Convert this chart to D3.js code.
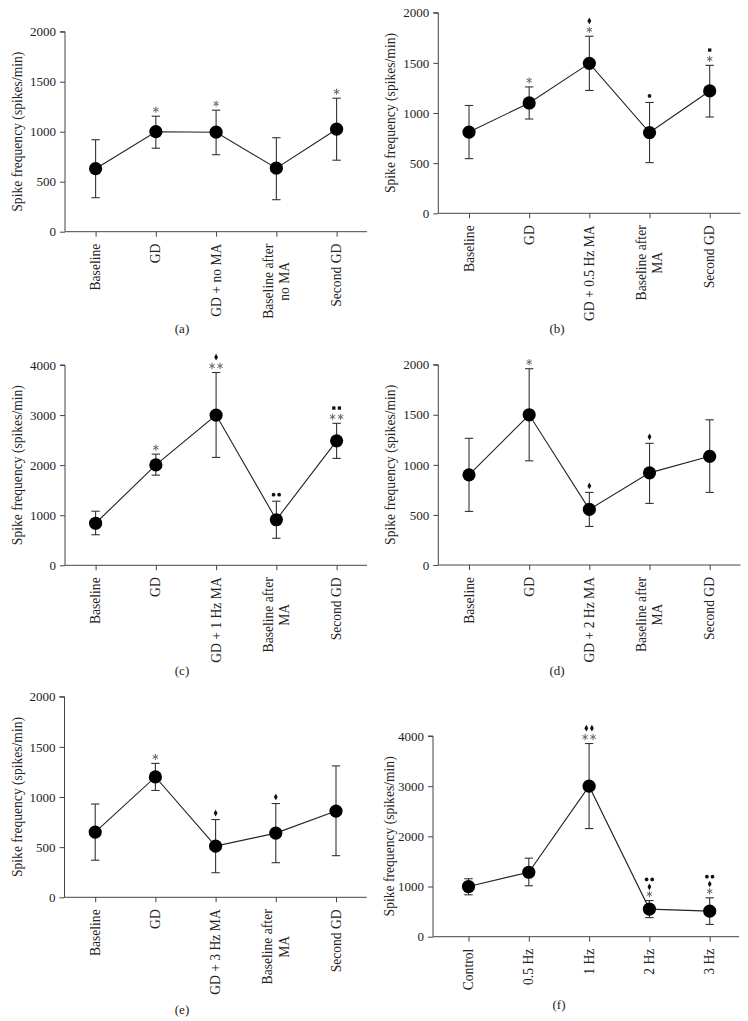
<!DOCTYPE html>
<html>
<head>
<meta charset="utf-8">
<script src="https://cdn.jsdelivr.net/npm/d3@7/dist/d3.min.js"></script>
<style>
  html, body { margin: 0; padding: 0; background: #fff; }
  svg { display: block; }
  text { font-family: "Liberation Serif", "Times New Roman", serif; fill: #222; }
</style>
</head>
<body>
<svg id="chart" width="748" height="1021"></svg>
<script>
// ---------------- DATA ----------------
const yTicks2000 = [0, 500, 1000, 1500, 2000];
const yTicks4000 = [0, 1000, 2000, 3000, 4000];

const categoriesA = ["Baseline", "GD", "GD + no MA", "Baseline after\nno MA", "Second GD"];
const meansA = [630, 1000, 995, 635, 1025];
const upperA = [920, 1155, 1215, 940, 1335];
const lowerA = [340, 835, 770, 320, 715];
const marksA = [[], ["*"], ["*"], [], ["*"]];

const categoriesB = ["Baseline", "GD", "GD + 0.5 Hz MA", "Baseline after\nMA", "Second GD"];
const meansB = [810, 1100, 1495, 805, 1220];
const upperB = [1075, 1260, 1765, 1105, 1475];
const lowerB = [545, 940, 1225, 505, 960];
const marksB = [[], ["*"], ["*", "d"], ["c"], ["*", "s"]];

const categoriesC = ["Baseline", "GD", "GD + 1 Hz MA", "Baseline after\nMA", "Second GD"];
const meansC = [840, 2005, 3000, 910, 2485];
const upperC = [1080, 2220, 3850, 1280, 2835];
const lowerC = [610, 1800, 2155, 540, 2135];
const marksC = [[], ["*"], ["**", "d"], ["cc"], ["**", "ss"]];

const categoriesD = ["Baseline", "GD", "GD + 2 Hz MA", "Baseline after\nMA", "Second GD"];
const meansD = [900, 1500, 555, 920, 1085];
const upperD = [1265, 1960, 725, 1215, 1450];
const lowerD = [535, 1040, 385, 615, 725];
const marksD = [[], ["*"], ["d"], ["d"], []];

const categoriesE = ["Baseline", "GD", "GD + 3 Hz MA", "Baseline after\nMA", "Second GD"];
const meansE = [650, 1200, 510, 640, 860];
const upperE = [930, 1335, 775, 935, 1310];
const lowerE = [370, 1065, 245, 345, 415];
const marksE = [[], ["*"], ["d"], ["d"], []];

const categoriesF = ["Control", "0.5 Hz", "1 Hz", "2 Hz", "3 Hz"];
const meansF = [1000, 1285, 3000, 550, 510];
const upperF = [1155, 1565, 3850, 720, 775];
const lowerF = [835, 1015, 2155, 380, 245];
const marksF = [[], [], ["**", "dd"], ["*", "d", "cc"], ["*", "d", "cc"]];

const yLabel = "Spike frequency (spikes/min)";
const captions = ["(a)", "(b)", "(c)", "(d)", "(e)", "(f)"];

// ---------------- LAYOUT ----------------
const panels = [
  {cats: categoriesA, m: meansA, up: upperA, lo: lowerA, mk: marksA, ticks: yTicks2000, max: 2000,
   ax: 65, xEnd: 367, px0: 95.6, px1: 336.6, top: 31.7, bot: 231.7, labX: 17, capX: 182, capY: 330},
  {cats: categoriesB, m: meansB, up: upperB, lo: lowerB, mk: marksB, ticks: yTicks2000, max: 2000,
   ax: 438.3, xEnd: 740.5, px0: 469, px1: 709.7, top: 12.7, bot: 213.3, labX: 390.5, capX: 557, capY: 330},
  {cats: categoriesC, m: meansC, up: upperC, lo: lowerC, mk: marksC, ticks: yTicks4000, max: 4000,
   ax: 65, xEnd: 367, px0: 95.6, px1: 336.6, top: 365, bot: 565.3, labX: 17, capX: 182, capY: 672},
  {cats: categoriesD, m: meansD, up: upperD, lo: lowerD, mk: marksD, ticks: yTicks2000, max: 2000,
   ax: 438.3, xEnd: 740.5, px0: 469, px1: 709.7, top: 364.7, bot: 565, labX: 390.5, capX: 557, capY: 672},
  {cats: categoriesE, m: meansE, up: upperE, lo: lowerE, mk: marksE, ticks: yTicks2000, max: 2000,
   ax: 64.5, xEnd: 366.7, px0: 95.2, px1: 336, top: 696.7, bot: 897.3, labX: 17, capX: 182, capY: 1011.5},
  {cats: categoriesF, m: meansF, up: upperF, lo: lowerF, mk: marksF, ticks: yTicks4000, max: 4000,
   ax: 433, xEnd: 739, px0: 468.5, px1: 709.7, top: 736, bot: 936.7, labX: 389.5, capX: 559, capY: 1006.5}
];

const svg = d3.select("#chart");

const symbolFor = {
  d: d3.symbol().type(d3.symbolDiamond).size(13),
  c: d3.symbol().type(d3.symbolCircle).size(11),
  s: d3.symbol().type(d3.symbolSquare).size(11)
};
const asterisk = d3.symbol().type(d3.symbolAsterisk).size(26);
const FS = 13.6;

panels.forEach((p, pi) => {
  const g = svg.append("g");
  const x = d3.scalePoint().domain(p.cats).range([p.px0, p.px1]);
  const y = d3.scaleLinear().domain([0, p.max]).range([p.bot, p.top]);

  // Y axis
  const yAxis = d3.axisLeft(y).tickValues(p.ticks).tickSize(5).tickPadding(4).tickFormat(d3.format("d"));
  const ya = g.append("g").attr("transform", `translate(${p.ax},0)`).call(yAxis);
  ya.select(".domain").attr("stroke", "#444").attr("d", `M-5,${p.top}H0V${p.bot}`);
  ya.selectAll(".tick line").attr("stroke", "#444");
  ya.selectAll(".tick text").attr("font-size", 13).attr("font-family", "Liberation Serif").attr("fill", "#222");

  // X axis
  const xAxis = d3.axisBottom(x).tickSize(5).tickFormat("");
  const xa = g.append("g").attr("transform", `translate(0,${p.bot})`).call(xAxis);
  xa.select(".domain").attr("stroke", "#444").attr("d", `M${p.ax},0H${p.xEnd}`);
  xa.selectAll(".tick line").attr("stroke", "#444");

  // X labels (rotated, multi-line centred on each other)
  p.cats.forEach(c => {
    const lines = c.split("\n");
    const n = lines.length;
    const texts = lines.map(ln => g.append("text")
      .attr("font-size", FS)
      .attr("text-anchor", "middle")
      .text(ln));
    const w = d3.max(texts, t => t.node().getComputedTextLength());
    texts.forEach((t, i) => {
      const bx = x(c) + (i - (n - 1) / 2) * 16.6 + 4.6;
      t.attr("transform", `translate(${bx},${p.bot + 12 + w / 2}) rotate(-90)`);
    });
  });

  // Y label
  g.append("text")
    .attr("transform", `translate(${p.labX + 4.6},${(p.top + p.bot) / 2}) rotate(-90)`)
    .attr("text-anchor", "middle")
    .attr("font-size", FS)
    .attr("fill", "#333")
    .text(yLabel);

  const data = p.cats.map((c, i) => ({c, m: p.m[i], up: p.up[i], lo: p.lo[i], mk: p.mk[i]}));

  // Error bars
  const eb = g.append("g").attr("stroke", "#333").attr("stroke-width", 1.1).attr("fill", "none");
  data.forEach(d => {
    const cx = x(d.c);
    eb.append("line").attr("x1", cx).attr("x2", cx).attr("y1", y(d.up)).attr("y2", y(d.lo));
    eb.append("line").attr("x1", cx - 4.2).attr("x2", cx + 4.2).attr("y1", y(d.up)).attr("y2", y(d.up));
    eb.append("line").attr("x1", cx - 4.2).attr("x2", cx + 4.2).attr("y1", y(d.lo)).attr("y2", y(d.lo));
  });

  // Line
  g.append("path").datum(data)
    .attr("fill", "none").attr("stroke", "#222").attr("stroke-width", 1.1)
    .attr("d", d3.line().x(d => x(d.c)).y(d => y(d.m)));

  // Points
  g.selectAll("circle.pt").data(data).enter().append("circle")
    .attr("class", "pt")
    .attr("cx", d => x(d.c)).attr("cy", d => y(d.m)).attr("r", 6.6)
    .attr("fill", "#000");

  // Significance marks
  data.forEach(d => {
    const cx = x(d.c);
    let yy = y(d.up) - 6.5;
    const step = d.mk.length >= 3 ? 7.3 : 8.8;
    d.mk.forEach(s => {
      const n = s.length;
      const sp = s[0] === "*" ? 8 : 5.6;
      for (let k = 0; k < n; k++) {
        const sx = cx + (k - (n - 1) / 2) * sp;
        if (s[k] === "*") {
          g.append("path").attr("d", asterisk())
            .attr("transform", `translate(${sx},${yy})`)
            .attr("fill", "none").attr("stroke", "#666").attr("stroke-width", 1);
        } else {
          g.append("path").attr("d", symbolFor[s[k]]())
            .attr("transform", `translate(${sx},${yy})`)
            .attr("fill", "#111");
        }
      }
      yy -= step;
    });
  });

  // Caption
  svg.append("text")
    .attr("x", p.capX).attr("y", p.capY)
    .attr("text-anchor", "middle").attr("dominant-baseline", "middle")
    .attr("font-size", 13)
    .text(captions[pi]);
});
</script>
</body>
</html>
